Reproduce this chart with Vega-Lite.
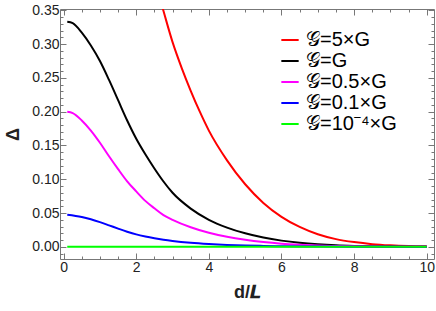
{
  "$schema": "https://vega.github.io/schema/vega-lite/v6.json",
  "width": 374,
  "height": 250,
  "autosize": {"type": "none"},
  "padding": {"left": 60, "top": 9, "right": 2, "bottom": 52},
  "background": "white",
  "config": {
    "font": "Liberation Sans",
    "view": {"stroke": "#777777", "strokeWidth": 1},
    "axis": {"grid": false, "domain": false, "tickColor": "#777777", "labelColor": "#222222", "labelFontSize": 14, "labelFont": "Liberation Sans"}
  },
  "data": {"values": [
    {"s": "𝒢=5×G", "d": 2.5, "v": 0.396}, {"s": "𝒢=5×G", "d": 2.75, "v": 0.349}, {"s": "𝒢=5×G", "d": 3.0, "v": 0.303}, {"s": "𝒢=5×G", "d": 3.25, "v": 0.265}, {"s": "𝒢=5×G", "d": 3.5, "v": 0.231}, {"s": "𝒢=5×G", "d": 3.75, "v": 0.2}, {"s": "𝒢=5×G", "d": 4.0, "v": 0.172}, {"s": "𝒢=5×G", "d": 4.5, "v": 0.128}, {"s": "𝒢=5×G", "d": 5.0, "v": 0.0926}, {"s": "𝒢=5×G", "d": 5.5, "v": 0.065}, {"s": "𝒢=5×G", "d": 6.0, "v": 0.0444}, {"s": "𝒢=5×G", "d": 6.5, "v": 0.0294}, {"s": "𝒢=5×G", "d": 7.0, "v": 0.0186}, {"s": "𝒢=5×G", "d": 7.5, "v": 0.0114}, {"s": "𝒢=5×G", "d": 8.0, "v": 0.007}, {"s": "𝒢=5×G", "d": 8.5, "v": 0.004}, {"s": "𝒢=5×G", "d": 9.0, "v": 0.00225}, {"s": "𝒢=5×G", "d": 9.5, "v": 0.0012}, {"s": "𝒢=5×G", "d": 10.0, "v": 0.0007},
    {"s": "𝒢=G", "d": 0.1, "v": 0.333}, {"s": "𝒢=G", "d": 0.25, "v": 0.331}, {"s": "𝒢=G", "d": 0.5, "v": 0.317}, {"s": "𝒢=G", "d": 0.75, "v": 0.298}, {"s": "𝒢=G", "d": 1.0, "v": 0.275}, {"s": "𝒢=G", "d": 1.25, "v": 0.247}, {"s": "𝒢=G", "d": 1.5, "v": 0.217}, {"s": "𝒢=G", "d": 1.75, "v": 0.187}, {"s": "𝒢=G", "d": 2.0, "v": 0.16}, {"s": "𝒢=G", "d": 2.25, "v": 0.137}, {"s": "𝒢=G", "d": 2.5, "v": 0.116}, {"s": "𝒢=G", "d": 2.75, "v": 0.0967}, {"s": "𝒢=G", "d": 3.0, "v": 0.08}, {"s": "𝒢=G", "d": 3.5, "v": 0.0566}, {"s": "𝒢=G", "d": 4.0, "v": 0.04}, {"s": "𝒢=G", "d": 4.5, "v": 0.0285}, {"s": "𝒢=G", "d": 5.0, "v": 0.02}, {"s": "𝒢=G", "d": 5.5, "v": 0.0137}, {"s": "𝒢=G", "d": 6.0, "v": 0.0092}, {"s": "𝒢=G", "d": 6.5, "v": 0.006}, {"s": "𝒢=G", "d": 7.0, "v": 0.0038}, {"s": "𝒢=G", "d": 7.5, "v": 0.0023}, {"s": "𝒢=G", "d": 8.0, "v": 0.0014}, {"s": "𝒢=G", "d": 8.5, "v": 0.0008}, {"s": "𝒢=G", "d": 9.0, "v": 0.00045}, {"s": "𝒢=G", "d": 9.5, "v": 0.00025}, {"s": "𝒢=G", "d": 10.0, "v": 0.00013},
    {"s": "𝒢=0.5×G", "d": 0.1, "v": 0.2}, {"s": "𝒢=0.5×G", "d": 0.25, "v": 0.198}, {"s": "𝒢=0.5×G", "d": 0.5, "v": 0.187}, {"s": "𝒢=0.5×G", "d": 0.75, "v": 0.172}, {"s": "𝒢=0.5×G", "d": 1.0, "v": 0.154}, {"s": "𝒢=0.5×G", "d": 1.25, "v": 0.134}, {"s": "𝒢=0.5×G", "d": 1.5, "v": 0.115}, {"s": "𝒢=0.5×G", "d": 1.75, "v": 0.097}, {"s": "𝒢=0.5×G", "d": 2.0, "v": 0.082}, {"s": "𝒢=0.5×G", "d": 2.25, "v": 0.068}, {"s": "𝒢=0.5×G", "d": 2.5, "v": 0.057}, {"s": "𝒢=0.5×G", "d": 2.75, "v": 0.047}, {"s": "𝒢=0.5×G", "d": 3.0, "v": 0.04}, {"s": "𝒢=0.5×G", "d": 3.5, "v": 0.029}, {"s": "𝒢=0.5×G", "d": 4.0, "v": 0.0208}, {"s": "𝒢=0.5×G", "d": 4.5, "v": 0.0148}, {"s": "𝒢=0.5×G", "d": 5.0, "v": 0.0104}, {"s": "𝒢=0.5×G", "d": 5.5, "v": 0.0071}, {"s": "𝒢=0.5×G", "d": 6.0, "v": 0.0047}, {"s": "𝒢=0.5×G", "d": 6.5, "v": 0.0031}, {"s": "𝒢=0.5×G", "d": 7.0, "v": 0.0019}, {"s": "𝒢=0.5×G", "d": 7.5, "v": 0.0012}, {"s": "𝒢=0.5×G", "d": 8.0, "v": 0.0007}, {"s": "𝒢=0.5×G", "d": 9.0, "v": 0.0002}, {"s": "𝒢=0.5×G", "d": 10.0, "v": 0.00005},
    {"s": "𝒢=0.1×G", "d": 0.1, "v": 0.0476}, {"s": "𝒢=0.1×G", "d": 0.5, "v": 0.0443}, {"s": "𝒢=0.1×G", "d": 0.75, "v": 0.0408}, {"s": "𝒢=0.1×G", "d": 1.0, "v": 0.0365}, {"s": "𝒢=0.1×G", "d": 1.25, "v": 0.0318}, {"s": "𝒢=0.1×G", "d": 1.5, "v": 0.027}, {"s": "𝒢=0.1×G", "d": 1.75, "v": 0.0224}, {"s": "𝒢=0.1×G", "d": 2.0, "v": 0.0184}, {"s": "𝒢=0.1×G", "d": 2.25, "v": 0.0153}, {"s": "𝒢=0.1×G", "d": 2.5, "v": 0.0127}, {"s": "𝒢=0.1×G", "d": 2.75, "v": 0.0105}, {"s": "𝒢=0.1×G", "d": 3.0, "v": 0.0087}, {"s": "𝒢=0.1×G", "d": 3.5, "v": 0.006}, {"s": "𝒢=0.1×G", "d": 4.0, "v": 0.0042}, {"s": "𝒢=0.1×G", "d": 4.5, "v": 0.0029}, {"s": "𝒢=0.1×G", "d": 5.0, "v": 0.002}, {"s": "𝒢=0.1×G", "d": 5.5, "v": 0.0014}, {"s": "𝒢=0.1×G", "d": 6.0, "v": 0.0009}, {"s": "𝒢=0.1×G", "d": 7.0, "v": 0.0004}, {"s": "𝒢=0.1×G", "d": 8.0, "v": 0.00015}, {"s": "𝒢=0.1×G", "d": 10.0, "v": 0.00002},
    {"s": "𝒢=10⁻⁴×G", "d": 0.1, "v": 0.00005}, {"s": "𝒢=10⁻⁴×G", "d": 2.0, "v": 0.00002}, {"s": "𝒢=10⁻⁴×G", "d": 4.0, "v": 0.000004}, {"s": "𝒢=10⁻⁴×G", "d": 10.0, "v": 0.0}
  ]},
  "layer": [
    {
      "mark": {"type": "line", "strokeWidth": 2, "clip": true, "interpolate": "monotone"},
      "encoding": {
        "x": {"field": "d", "type": "quantitative", "scale": {"domain": [-0.1, 10.2], "nice": false, "zero": false},
          "axis": {"orient": "bottom", "values": [0,0.5,1,1.5,2,2.5,3,3.5,4,4.5,5,5.5,6,6.5,7,7.5,8,8.5,9,9.5,10],
            "format": "~g",
            "labelExpr": "datum.value % 2 === 0 ? datum.label : ''",
            "tickSize": {"condition": {"test": "datum.value % 2 === 0", "value": -6}, "value": -3},
            "labelPadding": 7, "labelFlush": false,
            "title": "d/𝑳", "titleFontSize": 18, "titleFontWeight": "bold", "titleColor": "#222222", "titlePadding": 9}},
        "y": {"field": "v", "type": "quantitative", "scale": {"domain": [-0.018, 0.352], "nice": false, "zero": false},
          "axis": {"orient": "left", "values": [-0.01,0,0.01,0.02,0.03,0.04,0.05,0.06,0.07,0.08,0.09,0.1,0.11,0.12,0.13,0.14,0.15,0.16,0.17,0.18,0.19,0.2,0.21,0.22,0.23,0.24,0.25,0.26,0.27,0.28,0.29,0.3,0.31,0.32,0.33,0.34,0.35],
            "format": ".2f",
            "labelExpr": "abs(datum.value*20 - round(datum.value*20)) < 1e-6 ? datum.label : ''",
            "tickSize": {"condition": {"test": "abs(datum.value*20 - round(datum.value*20)) < 1e-6", "value": -6}, "value": -3},
            "labelPadding": 7, "labelFlush": false,
            "title": "Δ", "titleFontSize": 18, "titleFontWeight": "bold", "titleColor": "#222222", "titlePadding": 9}},
        "color": {"field": "s", "type": "nominal",
          "scale": {"domain": ["𝒢=5×G", "𝒢=G", "𝒢=0.5×G", "𝒢=0.1×G", "𝒢=10⁻⁴×G"], "range": ["#FF0000", "#000000", "#FF00FF", "#0000FF", "#00FF00"]},
          "legend": {"orient": "none", "legendX": 220, "legendY": 21, "title": null, "symbolType": "stroke", "symbolStrokeWidth": 2, "symbolSize": 300, "labelFontSize": 20, "labelFont": "Liberation Sans", "labelColor": "#000000", "rowPadding": 1, "labelOffset": 6}}
      }
    },
    {
      "mark": {"type": "line", "strokeOpacity": 0, "clip": true},
      "encoding": {
        "x": {"field": "d", "type": "quantitative",
          "axis": {"orient": "top", "values": [0,0.5,1,1.5,2,2.5,3,3.5,4,4.5,5,5.5,6,6.5,7,7.5,8,8.5,9,9.5,10], "labels": false, "title": null,
            "tickSize": {"condition": {"test": "datum.value % 2 === 0", "value": -6}, "value": -3}}},
        "y": {"field": "v", "type": "quantitative",
          "axis": {"orient": "right", "values": [-0.01,0,0.01,0.02,0.03,0.04,0.05,0.06,0.07,0.08,0.09,0.1,0.11,0.12,0.13,0.14,0.15,0.16,0.17,0.18,0.19,0.2,0.21,0.22,0.23,0.24,0.25,0.26,0.27,0.28,0.29,0.3,0.31,0.32,0.33,0.34,0.35], "labels": false, "title": null,
            "tickSize": {"condition": {"test": "abs(datum.value*20 - round(datum.value*20)) < 1e-6", "value": -6}, "value": -3}}},
        "detail": {"field": "s", "type": "nominal"}
      }
    }
  ],
  "resolve": {"axis": {"x": "independent", "y": "independent"}}
}
